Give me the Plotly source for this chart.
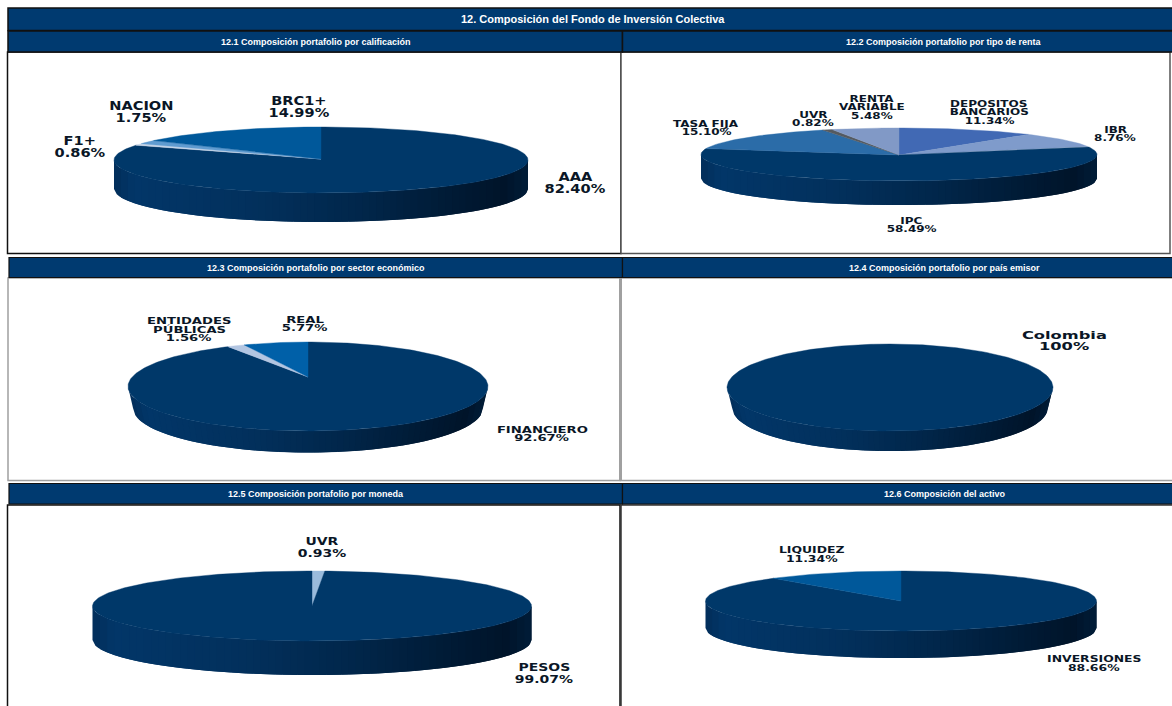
import json
import numpy as np
import plotly.graph_objects as go

TITLE = "12. Composición del Fondo de Inversión Colectiva"
SUBTITLES = ["12.1 Composición portafolio por calificación",
             "12.2 Composición portafolio por tipo de renta",
             "12.3 Composición portafolio por sector económico",
             "12.4 Composición portafolio por país emisor",
             "12.5 Composición portafolio por moneda",
             "12.6 Composición del activo"]

# Data: categories and values, clockwise from 12 o'clock
CATS_1 = ["AAA", "F1+", "NACION", "BRC1+"]
VALS_1 = [82.40, 0.86, 1.75, 14.99]
CATS_2 = ["DEPOSITOS\nBANCARIOS", "IBR", "IPC", "TASA FIJA", "UVR", "RENTA\nVARIABLE"]
VALS_2 = [11.34, 8.76, 58.49, 15.10, 0.82, 5.48]
CATS_3 = ["FINANCIERO", "ENTIDADES\nPÚBLICAS", "REAL"]
VALS_3 = [92.67, 1.56, 5.77]
CATS_4 = ["Colombia"]
VALS_4 = [100]
CATS_5 = ["UVR", "PESOS"]
VALS_5 = [0.93, 99.07]
CATS_6 = ["INVERSIONES", "LIQUIDEZ"]
VALS_6 = [88.66, 11.34]

NAVY = "#003869"
HEAD = "#003a70"
COLS_1 = [NAVY, "#c4d4e8", "#5f9bd0", "#00589a"]
COLS_2 = ["#4169b4", "#7f9bcb", NAVY, "#2b6ca8", "#555a60", "#8199c6"]
COLS_3 = [NAVY, "#b3c6e2", "#0060a8"]
COLS_4 = [NAVY]
COLS_5 = ["#9abbdc", NAVY]
COLS_6 = [NAVY, "#00589a"]

# Layout of each pie in pixels of the page; k is the horizontal stretch of the label text
PIES = [
    dict(c=CATS_1, v=VALS_1, col=COLS_1, cx=321, cy=160, rx=207, ry=33, rx2=207, depth=29, apex=-1, fs=11.5, sp=12, k=1.27,
         lab=[(575, 183.3), (80, 146.8), (141, 111.8), (299, 106.8)]),
    dict(c=CATS_2, v=VALS_2, col=COLS_2, cx=899, cy=154.5, rx=198, ry=26.5, rx2=198, depth=24, apex=0.5, fs=8, sp=8.3, k=1.5,
         lab=[(989, 112.8), (1115, 134.3), (911, 225.8), (706, 128.3), (813, 119.8), (872, 107.8)]),
    dict(c=CATS_3, v=VALS_3, col=COLS_3, cx=308, cy=386.5, rx=180, ry=44.5, rx2=175, depth=21.5, apex=-9.5, fs=8.5, sp=8.6, k=1.55,
         lab=[(542, 433.8), (189, 329.3), (305, 323.8)]),
    dict(c=CATS_4, v=VALS_4, col=COLS_4, cx=890, cy=387.5, rx=163, ry=43.5, rx2=158, depth=20, apex=0, fs=10.5, sp=11.5, k=1.55,
         lab=[(1064, 340.3)]),
    dict(c=CATS_5, v=VALS_5, col=COLS_5, cx=312, cy=606, rx=219.5, ry=35, rx2=219.5, depth=34, apex=0, fs=11, sp=11.5, k=1.27,
         lab=[(322, 547.3), (544, 673.3)]),
    dict(c=CATS_6, v=VALS_6, col=COLS_6, cx=901, cy=601, rx=195.5, ry=30, rx2=195.5, depth=27, apex=0, fs=9, sp=9.5, k=1.38,
         lab=[(1094, 663.3), (812, 554.3)]),
]

WALL_T = [-1.0, -0.9, -0.3, 0.2, 0.65, 0.88, 1.0]
WALL_RGB = [(2, 46, 90), (2, 54, 104), (2, 48, 92), (1, 38, 74), (0, 26, 52), (0, 20, 42), (0, 28, 56)]


def wall_colour(t):
    rgb = [np.interp(t, WALL_T, [c[i] for c in WALL_RGB]) for i in range(3)]
    return "rgb(%d,%d,%d)" % tuple(int(round(x)) for x in rgb)


fig = go.Figure()


def add_poly(xs, ys, colour, lw=0.6):
    fig.add_trace(go.Scatter(x=xs, y=ys, mode="lines", fill="toself", fillcolor=colour,
                             line=dict(color=colour, width=lw), hoverinfo="skip", showlegend=False))


annotations = []
stretch = []


def add_text(x, y, text, size, colour, family, k=1.0):
    annotations.append(dict(x=x, y=y, xref="x", yref="y", text=f"<b>{text}</b>",
                            showarrow=False, xanchor="center", yanchor="middle",
                            font=dict(family=family, size=size, color=colour)))
    stretch.append(k)


for p in PIES:
    cx, cy, rx, ry, rx2, d = p["cx"], p["cy"], p["rx"], p["ry"], p["rx2"], p["depth"]
    # side wall, painted left to right; each strip runs under the next so no seams appear
    edges = np.linspace(-1, 1, 61)
    for i, a in enumerate(edges[:-1]):
        b = edges[min(i + 2, len(edges) - 1)]
        ts = np.linspace(a, b, 6)
        top_x = cx + ts * rx
        top_y = cy + ry * np.sqrt(np.clip(1 - ts ** 2, 0, 1))
        bot_x = cx + ts[::-1] * rx2
        bot_y = cy + d + ry * np.sqrt(np.clip(1 - ts[::-1] ** 2, 0, 1))
        add_poly(np.r_[top_x, bot_x, top_x[0]], np.r_[top_y, bot_y, top_y[0]],
                 wall_colour(a + (edges[1] - edges[0]) / 2), 0)
    # top face: wedges clockwise from 12 o'clock
    start = 0.0
    for val, col in zip(p["v"], p["col"]):
        end = start + val / sum(p["v"]) * 2 * np.pi
        th = np.linspace(start, end, max(3, int((end - start) * 50)))
        xs = cx + rx * np.sin(th)
        ys = cy - ry * np.cos(th)
        if val < sum(p["v"]):
            xs = np.r_[cx, xs, cx]
            ys = np.r_[cy + p["apex"], ys, cy + p["apex"]]
        add_poly(xs, ys, col, 0.4)
        start = end
    # labels
    for cat, val, (lx, ly) in zip(p["c"], p["v"], p["lab"]):
        val_txt = "100%" if val == 100 else f"{val:.2f}%"
        lines = cat.split("\n") + [val_txt]
        y0 = ly - (len(lines) - 1) * p["sp"] / 2
        for i, line in enumerate(lines):
            add_text(lx, y0 + i * p["sp"], line, p["fs"], "#0a1626", "'DejaVu Sans'", p["k"])

# Header bands and panel frames
BLACK = "#111111"
GREY = "#a0a0a0"
shapes = []


def rect(x0, y0, x1, y1, fill="rgba(0,0,0,0)", line=None, w=1.5):
    shapes.append(dict(type="rect", xref="x", yref="y", x0=x0, y0=y0, x1=x1, y1=y1, fillcolor=fill,
                       line=dict(color=line, width=w) if line else dict(width=0), layer="below"))


# panels
rect(7.5, 52, 621, 253.5, "white", BLACK)
rect(621, 52, 1170, 253.5, "white", "#555555")
rect(8, 278, 620, 480.5, "white", GREY)
rect(620.5, 278, 1176, 480.5, "white", GREY, 1.5)
rect(7.5, 505, 620, 712, "white", BLACK)
rect(621, 505, 1176, 712, "white", "#333333")
shapes.append(dict(type="line", xref="x", yref="y", x0=620.5, x1=620.5, y0=278, y1=480,
                   line=dict(color=GREY, width=3), layer="below"))
# bands
rect(8, 8, 1176, 30.5, HEAD, BLACK, 1.5)
rect(8, 31, 622.5, 52, HEAD, BLACK, 1.5)
rect(622.5, 31, 1176, 52, HEAD, BLACK, 1.5)
rect(9, 257.5, 622.5, 277.5, HEAD, BLACK, 1.2)
rect(622.5, 257.5, 1176, 277.5, HEAD, BLACK, 1.2)
rect(9, 483.5, 622.5, 504, HEAD, BLACK, 1.2)
rect(622.5, 483.5, 1176, 504, HEAD, BLACK, 1.2)

HF = "'Liberation Sans'"
add_text(593, 18.5, TITLE, 11, "white", HF)
for sub, (sx, sy) in zip(SUBTITLES, [(315.5, 42), (944, 42), (315.5, 268), (944, 268), (316, 494), (945, 494)]):
    add_text(sx, sy, sub, 9, "white", HF)

fig.update_layout(
    width=1172, height=706, margin=dict(l=0, r=0, t=0, b=0),
    paper_bgcolor="white", plot_bgcolor="white", showlegend=False,
    xaxis=dict(range=[0, 1172], visible=False, fixedrange=True),
    yaxis=dict(range=[706, 0], visible=False, fixedrange=True),
    shapes=shapes, annotations=annotations,
)

# The reference's labels are wide and squat: stretch each real text element about its own centre
post = """
document.body.style.margin='0';document.body.style.overflow='hidden';
var K = %s;
document.querySelectorAll('.annotation').forEach(function(g){
  var i = +g.getAttribute('data-index'), t = g.querySelector('text.annotation-text');
  if (!t || !K[i] || K[i] === 1) return;
  var b = t.getBBox(), c = b.x + b.width / 2;
  t.setAttribute('transform', 'translate(' + c + ',0) scale(' + K[i] + ',1) translate(' + (-c) + ',0)');
});
""" % json.dumps(stretch)
fig.write_html("out.html", config={"displayModeBar": False}, post_script=post)
